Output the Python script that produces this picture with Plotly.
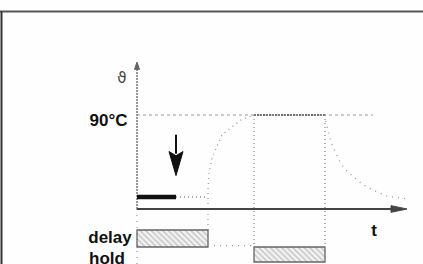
import plotly.graph_objects as go

# ---------------- data ----------------
# time in arbitrary units (0 = start), temperature in °C
phase_names = ["delay", "hold"]
phase_start = [0, 117]
phase_end = [71, 188]
phase_lane = [0, 1]

T_set = 90
T_start = 11.5
set_label = "90°C"
axis_labels = ["ϑ", "t"]

start_t = [0, 39]          # solid starting level
start_wait_t = [39, 70]    # dotted continuation

heat_t = [71, 71, 72, 75, 79, 85, 94, 105, 117]
heat_T = [0, 18, 34, 49, 58, 71, 78, 86, 90]

hold_t = [117, 188]
hold_T = [90, 90]

cool_t = [188, 189, 191, 194, 198, 203, 209, 216, 225, 236, 251, 268]
cool_T = [90, 82, 76, 64, 55, 45, 37, 31, 24, 18, 12, 10]

ref_line_t = [0, 236]       # 90°C guide line
axis_t_end = 270
axis_T_top = 140.7

arrow_t = 39
arrow_T = [71, 32]          # from, to (tip)

# ---------------- figure ----------------
W, H = 423, 264
x_range = [-137, 286]
y_range = [-52.66, 200.11]
y2_range = [1.594, -14.906]

fig = go.Figure()


def line(x, y, color="#8a8a8a", width=1.2, dash="1px,4px", yaxis="y"):
    fig.add_trace(go.Scatter(x=x, y=y, mode="lines", yaxis=yaxis,
                             line=dict(color=color, width=width, dash=dash),
                             hoverinfo="skip"))


def filled(x, y, color):
    fig.add_trace(go.Scatter(x=x, y=y, mode="lines", fill="toself", fillcolor=color,
                             line=dict(color=color, width=1), hoverinfo="skip"))


def label(x, y, text, size=17, weight="bold", family="Liberation Sans", color="#111"):
    fig.add_trace(go.Scatter(x=[x], y=[y], mode="text", text=[text],
                             textposition="middle center",
                             textfont=dict(family=family, size=size, color=color,
                                           weight=weight),
                             hoverinfo="skip"))


# 90°C reference line
line(ref_line_t, [T_set, T_set], color="#9a9a9a", width=1.2, dash="3px,3px")
# y axis (dotted)
line([0, 0], [0, axis_T_top], color="#777", width=1.5, dash="2px,1px")
line([0, 0], [y_range[0], 0], color="#999", width=1.2, dash="1px,5px")
# vertical guides
line([phase_end[0], phase_end[0]], [0, -20.1], color="#999", width=1.2, dash="1px,4px")
line([hold_t[0], hold_t[0]], [T_set, -36.4], color="#888", width=1.2, dash="1px,3px")
line([hold_t[1], hold_t[1]], [T_set, -36.4], color="#888", width=1.2, dash="1px,3px")

# temperature profile
line(start_t, [T_start, T_start], color="#111", width=4.5, dash="solid")
line(start_wait_t, [T_start, T_start], color="#888", width=1.5, dash="1px,3px")
line(heat_t, heat_T, color="#999", width=1.3, dash="1px,4px")
line(hold_t, hold_T, color="#555", width=1.6, dash="2px,1px")
line(cool_t, cool_T, color="#999", width=1.3, dash="1px,5px")

# x axis with arrow head
line([0, axis_t_end - 8], [0, 0], color="#444", width=2, dash="solid")
filled([axis_t_end - 16, axis_t_end, axis_t_end - 16, axis_t_end - 16],
       [3.2, 0, -3.2, 3.2], "#444")
# y axis small arrow head
filled([-2.5, 0, 2.5, -2.5],
       [axis_T_top - 7, axis_T_top, axis_T_top - 7, axis_T_top - 7], "#666")

# down arrow (stem + head)
head_len, head_hw, notch = 23, 7, 4
line([arrow_t, arrow_t], [arrow_T[0], arrow_T[1] + head_len - 2], color="#111", width=2, dash="solid")
filled([arrow_t - head_hw, arrow_t, arrow_t + head_hw, arrow_t, arrow_t - head_hw],
       [arrow_T[1] + head_len, arrow_T[1], arrow_T[1] + head_len,
        arrow_T[1] + head_len - notch, arrow_T[1] + head_len], "#111")

# phase bars (hatched)
fig.add_trace(go.Bar(
    orientation="h", y=phase_lane,
    x=[e - s for s, e in zip(phase_start, phase_end)], base=phase_start,
    width=[1.06, 0.94], yaxis="y2",
    marker=dict(color="white", line=dict(color="#666", width=1.3),
                pattern=dict(shape="\\", fgcolor="#999", bgcolor="#f4f4f4",
                             size=4, solidity=0.4)),
    hoverinfo="skip"))
# connector between phases
line([phase_end[0], phase_start[1]], [0.45, 0.45], color="#999", width=1.2,
     dash="1px,5px", yaxis="y2")

# texts (drawn as text traces, clipped by the figure edge like the original)
label(-28.5, 83.9, set_label)
label(-27, -28.1, phase_names[0])
label(-30, -48.8, phase_names[1])
label(237, -21.8, axis_labels[1])
label(-15, 124.5, axis_labels[0], size=15, weight="normal",
      family="DejaVu Sans", color="#444")

shapes = [
    dict(type="line", xref="paper", yref="paper", x0=0, x1=1,
         y0=1 - 11.5 / H, y1=1 - 11.5 / H, line=dict(color="#555", width=2)),
    dict(type="line", xref="paper", yref="paper", x0=1.5 / W, x1=1.5 / W,
         y0=0, y1=1 - 11.5 / H, line=dict(color="#333", width=2)),
]

fig.update_layout(
    width=W, height=H, autosize=False,
    margin=dict(l=0, r=0, t=0, b=0, pad=0),
    paper_bgcolor="#fefefe", plot_bgcolor="#fefefe",
    showlegend=False, hovermode=False,
    xaxis=dict(range=x_range, visible=False, fixedrange=True),
    yaxis=dict(range=y_range, visible=False, fixedrange=True),
    yaxis2=dict(range=y2_range, visible=False, overlaying="y", fixedrange=True),
    shapes=shapes,
)

fig.write_html(
    "out.html",
    config={"displayModeBar": False},
    post_script=(
        "var st=document.createElement('style');"
        "st.textContent='html,body{margin:0;padding:0;overflow:hidden;scrollbar-width:none;}"
        "::-webkit-scrollbar{display:none;width:0;height:0;}';"
        "document.head.appendChild(st);"
    ),
)
